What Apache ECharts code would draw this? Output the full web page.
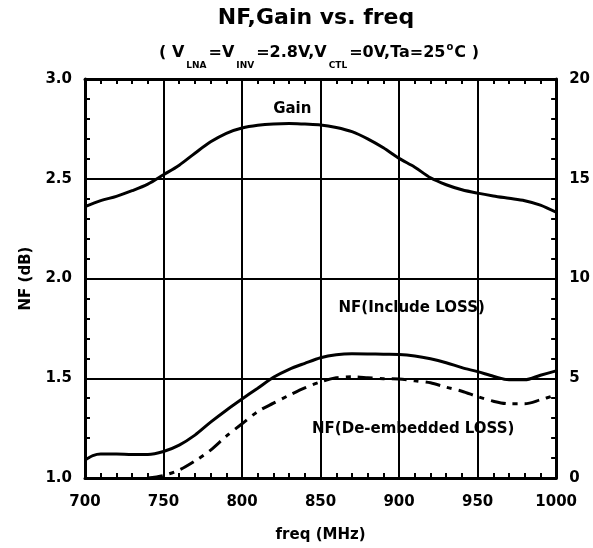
<!DOCTYPE html>
<html>
<head>
<meta charset="utf-8">
<script src="https://cdn.jsdelivr.net/npm/echarts@6/dist/echarts.min.js"></script>
<style>html,body{margin:0;padding:0;background:#fff}#c{width:593px;height:548px}</style>
</head>
<body>
<div id="c"></div>
<script>
const freqTicks = [700, 750, 800, 850, 900, 950, 1000];
const nfTicks = [1.0, 1.5, 2.0, 2.5, 3.0];
const gainTicks = [0, 5, 10, 15, 20];

const gainFreq = [700,710,720,730,740,750,760,770,780,790,800,810,820,830,840,850,860,870,880,890,900,910,920,930,940,950,960,970,980,990,1000];
const gainVals = [13.6,13.9,14.12,14.4,14.73,15.2,15.68,16.28,16.85,17.28,17.54,17.68,17.75,17.77,17.74,17.70,17.57,17.36,17.0,16.55,16.02,15.58,15.05,14.7,14.45,14.28,14.14,14.02,13.9,13.68,13.32];

const nfIncFreq = [700,705,710,720,730,740,750,760,770,780,790,800,810,820,830,840,850,860,870,880,890,900,910,920,930,940,950,960,970,980,990,1000];
const nfIncVals = [1.09,1.112,1.12,1.12,1.118,1.118,1.133,1.165,1.215,1.28,1.34,1.396,1.45,1.505,1.545,1.575,1.603,1.618,1.623,1.622,1.62,1.619,1.612,1.598,1.578,1.553,1.533,1.51,1.492,1.492,1.515,1.537];

const nfDeFreq = [740,750,760,770,780,790,800,810,820,830,840,850,860,870,880,890,900,910,920,930,940,950,960,970,980,990,1000];
const nfDeVals = [1.0,1.013,1.04,1.085,1.14,1.21,1.272,1.333,1.375,1.415,1.452,1.482,1.502,1.507,1.503,1.498,1.496,1.487,1.477,1.455,1.435,1.408,1.385,1.372,1.372,1.392,1.417];

const labelGain = {text: 'Gain', freq: 832, nf: 2.85};
const labelInc = {text: 'NF(Include LOSS)', freq: 908, nf: 1.85};
const labelDe = {text: 'NF(De-embedded LOSS)', freq: 909, nf: 1.243};

const FONT = '"DejaVu Sans", Arial, sans-serif';
const zip = (a, b) => a.map((x, i) => [x, b[i]]);

const chart = echarts.init(document.getElementById('c'), null, {renderer: 'canvas'});
const axisLineStyle = {color: '#000', width: 3};
const lbl = {color: '#000', fontFamily: FONT, fontWeight: 'bold', fontSize: 15};
const minor = {show: true, splitNumber: 5, length: 5, lineStyle: {color: '#000', width: 2}};
const tick = {show: false, inside: true};

function textMark(l) {
  return {
    coord: [l.freq, l.nf], symbol: 'circle', symbolSize: 0,
    label: {show: true, position: 'inside', formatter: l.text, color: '#000', fontFamily: FONT, fontWeight: 'bold', fontSize: 15}
  };
}

chart.setOption({
  animation: false,
  backgroundColor: '#fff',
  title: [
    {text: 'NF,Gain vs. freq', left: 311, textAlign: 'center', top: 2,
     textStyle: {color: '#000', fontFamily: FONT, fontWeight: 'bold', fontSize: 22}},
    {text: '{m|( V}{s|LNA}{m|=V}{s|INV}{m|=2.8V,V}{s|CTL}{m|=0V,Ta=25}{p|o}{m|C )}', left: 314, textAlign: 'center', top: 31,
     textStyle: {rich: {
       m: {color: '#000', fontFamily: FONT, fontWeight: 'bold', fontSize: 16, lineHeight: 34, verticalAlign: 'middle'},
       s: {color: '#000', fontFamily: FONT, fontWeight: 'bold', fontSize: 9, lineHeight: 9, verticalAlign: 'bottom', padding: [0, 2, 0, 2]},
       p: {color: '#000', fontFamily: FONT, fontWeight: 'bold', fontSize: 10, lineHeight: 10, verticalAlign: 'middle', padding: [0, 1, 12, 1]}
     }}}
  ],
  grid: {left: 85, right: 36, top: 79, bottom: 68, containLabel: false},
  xAxis: [
    {type: 'value', min: freqTicks[0], max: freqTicks[freqTicks.length - 1], interval: 50, position: 'bottom',
     name: 'freq (MHz)', nameLocation: 'middle', nameGap: 50,
     nameTextStyle: lbl,
     axisLine: {show: true, onZero: false, lineStyle: axisLineStyle},
     axisTick: tick, minorTick: minor,
     axisLabel: Object.assign({margin: 17, formatter: v => String(v)}, lbl),
     splitLine: {show: true, lineStyle: {color: '#000', width: 2}}},
    {type: 'value', min: freqTicks[0], max: freqTicks[freqTicks.length - 1], interval: 50, position: 'top',
     axisLine: {show: true, onZero: false, lineStyle: axisLineStyle},
     axisTick: tick, minorTick: minor,
     axisLabel: {show: false}, splitLine: {show: false}}
  ],
  yAxis: [
    {type: 'value', min: nfTicks[0], max: nfTicks[nfTicks.length - 1], interval: 0.5, position: 'left',
     name: 'NF (dB)', nameLocation: 'middle', nameGap: 51, nameRotate: 90,
     nameTextStyle: lbl,
     axisLine: {show: true, onZero: false, lineStyle: axisLineStyle},
     axisTick: tick, minorTick: minor,
     axisLabel: Object.assign({margin: 13, formatter: v => v.toFixed(1)}, lbl),
     splitLine: {show: true, lineStyle: {color: '#000', width: 2}}},
    {type: 'value', min: gainTicks[0], max: gainTicks[gainTicks.length - 1], interval: 5, position: 'right',
     axisLine: {show: true, onZero: false, lineStyle: axisLineStyle},
     axisTick: tick, minorTick: minor,
     axisLabel: Object.assign({margin: 13}, lbl),
     splitLine: {show: false}}
  ],
  series: [
    {name: 'Gain', type: 'line', xAxisIndex: 0, yAxisIndex: 1, data: zip(gainFreq, gainVals),
     smooth: 0.3, showSymbol: false, symbol: 'none', lineStyle: {color: '#000', width: 3}, z: 5,
     markPoint: {data: [textMark({text: labelGain.text, freq: labelGain.freq, nf: (labelGain.nf - 1) * 10})]}},
    {name: 'NF(Include LOSS)', type: 'line', xAxisIndex: 0, yAxisIndex: 0, data: zip(nfIncFreq, nfIncVals),
     smooth: 0.3, showSymbol: false, symbol: 'none', lineStyle: {color: '#000', width: 3}, z: 5,
     markPoint: {data: [textMark(labelInc)]}},
    {name: 'NF(De-embedded LOSS)', type: 'line', xAxisIndex: 0, yAxisIndex: 0, data: zip(nfDeFreq, nfDeVals),
     smooth: 0.3, showSymbol: false, symbol: 'none', lineStyle: {color: '#000', width: 3, type: [15, 7, 5, 7]}, z: 5,
     markPoint: {data: [textMark(labelDe)]}}
  ]
});
</script>
</body>
</html>
